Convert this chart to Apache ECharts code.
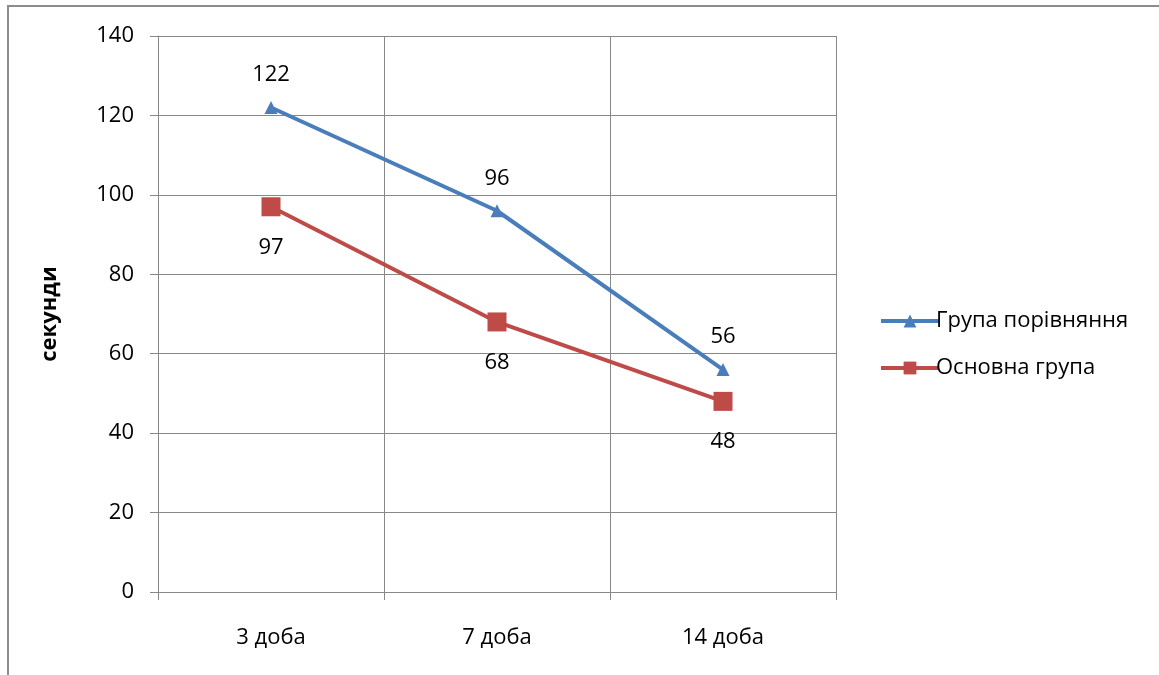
<!DOCTYPE html>
<html>
<head>
<meta charset="utf-8">
<script src="https://cdn.jsdelivr.net/npm/echarts@6/dist/echarts.min.js"></script>
<style>
  html, body { margin: 0; padding: 0; background: #fff; }
  #frame { position: absolute; left: 7px; top: 5px; width: 1200px; height: 720px;
           border-left: 2px solid #8c8c8c; border-top: 2px solid #8c8c8c; }
  #chart { position: absolute; left: 0; top: 0; width: 1159px; height: 675px; }
</style>
</head>
<body>
<div id="frame"></div>
<div id="chart"></div>
<script>
const categories = ['3 доба', '7 доба', '14 доба'];
const comparisonGroup = [122, 96, 56];
const mainGroup = [97, 68, 48];
const seriesNames = ['Група порівняння', 'Основна група'];
const yAxisTitle = 'секунди';

const FONT = '"Open Sans", "Noto Sans", sans-serif';
const FS = 22;
const chart = echarts.init(document.getElementById('chart'));

chart.setOption({
  animation: false,
  textStyle: { fontFamily: FONT },
  grid: { left: 158, right: 323, top: 36, bottom: 83 },
  legend: {
    orient: 'vertical',
    left: 874,
    top: 305,
    itemWidth: 58,
    itemHeight: 16,
    itemGap: 25,
    lineStyle: { width: 4 },
    textStyle: { fontSize: FS, color: '#000', fontFamily: FONT, padding: [0, 0, 0, -8] },
    data: seriesNames
  },
  xAxis: {
    type: 'category',
    data: categories,
    boundaryGap: true,
    axisLine: { lineStyle: { color: '#888', width: 1 } },
    axisTick: { show: true, length: 8, alignWithLabel: false, lineStyle: { color: '#888' } },
    axisLabel: { fontSize: FS, color: '#000', margin: 35, fontFamily: FONT },
    splitLine: { show: true, interval: 0, lineStyle: { color: '#888', width: 1 } }
  },
  yAxis: {
    type: 'value',
    min: 0, max: 140, interval: 20,
    name: yAxisTitle,
    nameLocation: 'middle',
    nameGap: 97,
    nameRotate: 90,
    nameTextStyle: { fontSize: FS, fontWeight: 'bold', color: '#000', fontFamily: FONT },
    axisLine: { show: true, lineStyle: { color: '#888', width: 1 } },
    axisTick: { show: true, length: 8, lineStyle: { color: '#888' } },
    axisLabel: { fontSize: FS, color: '#000', margin: 24, fontFamily: FONT },
    splitLine: { show: true, lineStyle: { color: '#888', width: 1 } }
  },
  series: [
    {
      name: seriesNames[0],
      type: 'line',
      data: comparisonGroup,
      symbol: 'triangle',
      symbolSize: 13,
      itemStyle: { color: '#4a7ebb' },
      lineStyle: { color: '#4a7ebb', width: 4 },
      label: { show: true, position: 'top', distance: 15, fontSize: FS, color: '#000', fontFamily: FONT },
      z: 3
    },
    {
      name: seriesNames[1],
      type: 'line',
      data: mainGroup,
      symbol: 'rect',
      symbolSize: 19,
      itemStyle: { color: '#be4b48' },
      lineStyle: { color: '#be4b48', width: 4 },
      label: { show: true, position: 'bottom', distance: 20, fontSize: FS, color: '#000', fontFamily: FONT },
      z: 2
    }
  ]
});
</script>
</body>
</html>
